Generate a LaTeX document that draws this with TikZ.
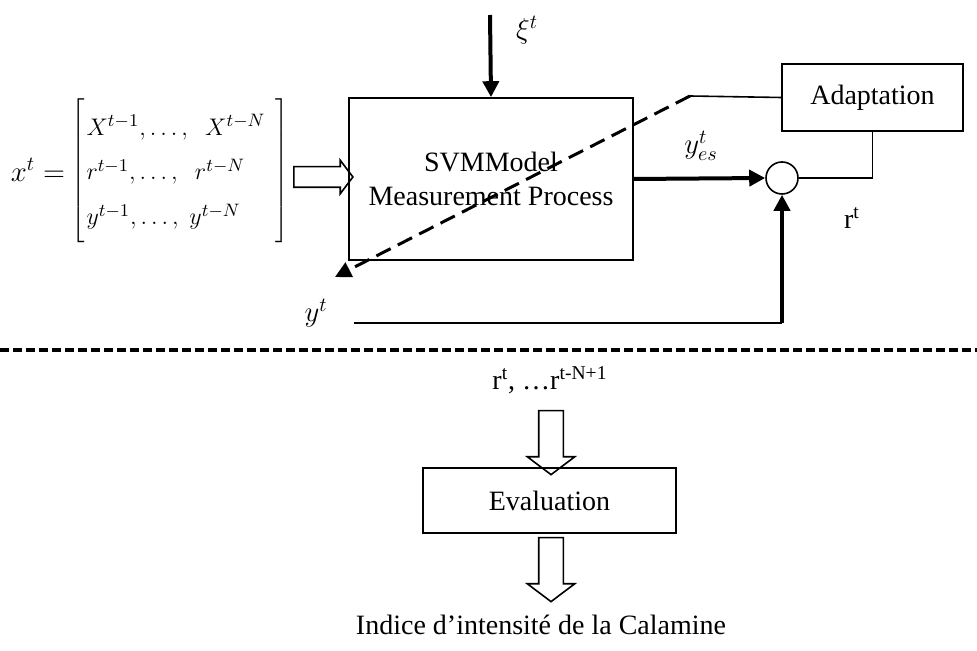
\documentclass[tikz,border=0pt]{standalone}
\usepackage{fontspec}
\setmainfont{Liberation Serif}
\usepackage{tikz}
\usetikzlibrary{arrows.meta,shapes.arrows}

\begin{document}
\begin{tikzpicture}[
  x=0.5pt, y=-0.5pt,
  font=\fontsize{14}{17}\selectfont,
  box/.style={draw, line width=0.8pt, align=center, inner sep=0pt},
  junction/.style={draw, line width=0.8pt, circle, minimum size=16pt, inner sep=0pt},
  wire/.style={line width=0.8pt},
  arr/.style={-{Triangle[length=8pt, width=8pt]}, line width=2pt},
  dasharr/.style={-{Triangle[length=8pt, width=8pt]}, line width=1.5pt, dash pattern=on 8pt off 4pt},
  sep/.style={line width=1.6pt, dash pattern=on 4.5pt off 2pt},
  fat/.style={draw, line width=0.8pt, single arrow, inner xsep=0pt, inner ysep=5.75pt,
    single arrow head extend=5.75pt, single arrow tip angle=106},
  lab/.style={inner sep=0pt},
]
\useasboundingbox (0,0) rectangle (977,651);
% blocks
\node[box, minimum width=142pt, minimum height=81pt] (svm) at (491,179) {SVMModel\\Measurement Process};
\node[box, minimum width=90.5pt, minimum height=33.5pt] (adapt) at (872.5,97.5) {Adaptation};
\node[junction] (sum) at (782,178) {};
\node[box, minimum width=126.5pt, minimum height=32.5pt] (eval) at (549.5,500.5) {Evaluation};
\node[lab] (lhs) at (38,170) {$x^{t} =$};
\node[lab, font=\fontsize{13}{16}\selectfont] (vec) at (180,172) {$\left[\vrule height 38pt depth 34pt width 0pt
  \renewcommand{\arraystretch}{1.4}\begin{array}{@{\hspace{1pt}}l@{\hspace{5pt}}}
  X^{t-1}{,}\ldots{,}\;\;\, X^{t-N}\\
  r^{t-1}{,}\ldots{,}\;\;\, r^{t-N}\\
  y^{t-1}{,}\ldots{,}\;\, y^{t-N}
  \end{array}\right]$};
\node[lab] (index) at (541,625) {Indice d’intensité de la Calamine};
% labels
\node[lab] (xi) at (527,30) {$\xi^{t}$};
\node[lab] (yes) at (701,146) {$y^{t}_{es}$};
\node[lab] (rt) at (852,218) {r\textsuperscript{t}};
\node[lab] (yt) at (316,313) {$y^{t}$};
\node[lab] (rseq) at (550,380) {r\textsuperscript{t}, \dots r\textsuperscript{t-N+1}};
% hollow arrows
\node[fat, minimum height=29.5pt, inner ysep=4.75pt, single arrow head extend=3.25pt] (feed) at (319.5,177) {};
\node[fat, minimum height=32pt, rotate=-90] (toeval) at (551,438) {};
\node[fat, minimum height=32pt, rotate=-90] (fromeval) at (551,565) {};
% free ends
\coordinate (xitop) at (490,15);
\coordinate (bend) at (690,96);
\coordinate (dtip) at (335,277);
\coordinate (ystart) at (354,323);
\coordinate (ycorner) at (782,323);
\coordinate (sepL) at (0,350);
\coordinate (sepR) at (977,350);
% connectors
\draw[arr] (xitop) -- (svm.north);
\draw[arr] (svm.east) -- (sum.west);
\draw[wire] (sum.east) -| (adapt.south);
\draw[wire] (adapt.west) -- (bend);
\draw[dasharr] (bend) -- (dtip);
\draw[wire] (ystart) -- (ycorner);
\draw[arr] (ycorner) -- (sum.south);
\draw[sep] (sepL) -- (sepR);
\end{tikzpicture}
\end{document}
